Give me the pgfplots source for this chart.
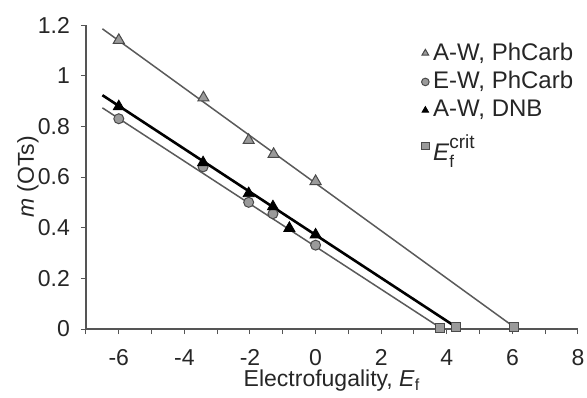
\documentclass[border=0pt]{standalone}
\usepackage{pgfplots}
\pgfplotsset{compat=1.18}
\usepackage{fontspec}
\setmainfont{Liberation Sans}
\usetikzlibrary{calc}
\definecolor{axgray}{HTML}{555555}
\definecolor{linegray}{HTML}{5A5A5A}
\definecolor{mfill}{HTML}{9A9A9A}
\definecolor{medge}{HTML}{4A4A4A}
\begin{document}
\fontsize{11.5}{13}\selectfont
\begin{tikzpicture}
\begin{axis}[
  name=ax,
  scale only axis,
  width=246pt, height=152pt,
  xmin=-7, xmax=8, ymin=0, ymax=1.2,
  axis lines=left,
  axis line style={-, draw=axgray, line width=0.6pt},
  xtick={-6,-4,...,8},
  minor xtick={-7,-5,...,7},
  ytick={0,0.2,...,1.21},
  yticklabels={0,0.2,0.4,0.6,0.8,1,1.2},
  tick align=outside,
  major tick length=2.5pt,
  minor tick length=2.5pt,
  tick style={draw=axgray, line width=0.5pt},
  /pgf/number format/assume math mode=true,
  every axis/.append style={font=\fontsize{11.5}{13}\selectfont},
  tick label style={font=\fontsize{11.5}{13}\selectfont, text=black!85},
  xticklabel style={anchor=base, yshift=-15.5pt},
  yticklabel style={anchor=east, xshift=-1.5pt},
  xlabel={Electrofugality, \textit{E}\textsubscript{f}},
  ylabel={\textit{m} (OTs)},
  xlabel style={at={(axis description cs:0.5,-0.17)}, anchor=center, font=\fontsize{11.5}{13}\selectfont, text=black!85},
  ylabel style={at={(axis description cs:-0.118,0.5)}, anchor=center, font=\fontsize{11.5}{13}\selectfont, text=black!85},
  legend style={at={(axis description cs:0.682,0.955)}, anchor=north west, draw=none, fill=none,
    font=\fontsize{12}{14}\selectfont, text=black!85, row sep=0pt,
    inner sep=0pt, outer sep=0pt},
  legend cell align=left,
  legend image code/.code={\draw[#1, mark size=1.9pt] plot coordinates {(0.05cm,0cm)};},
  clip=false,
]
% fitted lines
\addplot[forget plot, color=linegray, line width=0.75pt] coordinates {(-6.5,1.185) (6.05,0.008)};
\addplot[forget plot, color=linegray, line width=0.75pt] coordinates {(-6.5,0.873) (3.8,0.005)};
\addplot[forget plot, color=black, line width=1.3pt] coordinates {(-6.5,0.923) (4.28,0.008)};
% data
\addplot[only marks, mark=triangle*, mark size=3.2pt, mark options={fill=mfill, draw=medge, line width=0.5pt}]
  coordinates {(-6.0,1.14) (-3.42,0.913) (-2.04,0.745) (-1.28,0.69) (0,0.583)};
\addlegendentry{A-W, PhCarb}
\addplot[only marks, mark=*, mark size=2.5pt, mark options={fill=mfill, draw=medge, line width=0.5pt}]
  coordinates {(-6.0,0.83) (-3.43,0.64) (-2.04,0.50) (-1.30,0.455) (0,0.331)};
\addlegendentry{E-W, PhCarb}
\addplot[only marks, mark=triangle*, mark size=3.2pt, mark options={fill=black, draw=black}]
  coordinates {(-6.0,0.878) (-3.43,0.657) (-2.04,0.535) (-1.30,0.483) (-0.8,0.398) (0,0.372)};
\addlegendentry{A-W, DNB}
\addplot[only marks, mark=square*, mark size=2.3pt, mark options={fill=mfill, draw=medge, line width=0.5pt}]
  coordinates {(3.8,0.005) (4.28,0.008) (6.05,0.008)};
\addlegendentry{\rule{0pt}{16pt}\textit{E}\makebox[0pt][l]{\raisebox{-3.5pt}{\fontsize{8.5}{9}\selectfont f}}\raisebox{6pt}{\fontsize{9.5}{10}\selectfont crit}}
\end{axis}
\pgfresetboundingbox
\path[use as bounding box] ($(ax.south west)+(-43pt,-34.5pt)$) rectangle ($(ax.north east)+(4.5pt,12.5pt)$);
\end{tikzpicture}
\end{document}
